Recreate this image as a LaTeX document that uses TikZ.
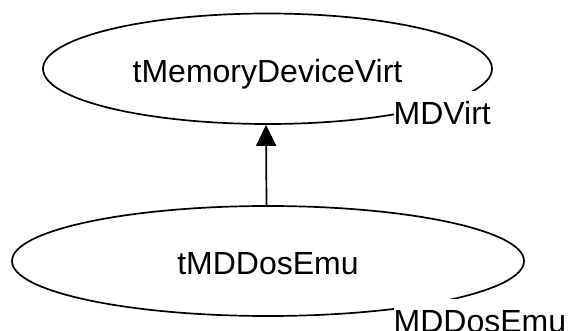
\documentclass[tikz,border=0pt]{standalone}
\usepackage{fontspec}
\setmainfont{Liberation Sans}
\usetikzlibrary{shapes.geometric,arrows.meta}
\begin{document}
\begin{tikzpicture}[x=1pt,y=-1pt,
  every node/.style={font=\fontsize{32}{38}\selectfont},
  cls/.style={ellipse, draw, line width=1.7pt, inner sep=0pt, text depth=0pt},
  lbl/.style={fill=white, inner xsep=0pt, inner ysep=11pt, anchor=base west},
  inh/.style={line width=1.7pt, -{Triangle[length=21pt,width=20pt]}}]
\useasboundingbox (0,0) rectangle (569,331);
\node[cls, minimum width=449pt, minimum height=110.5pt, text height=28.5pt] (mdv) at (267.5,68.75) {tMemoryDeviceVirt};
\node[cls, minimum width=512pt, minimum height=110pt, text height=26pt] (emu) at (268,261) {tMDDosEmu};
\draw[inh] ([xshift=-1.5pt]emu.north) -- ([xshift=-1.5pt]mdv.south);
\node[lbl] (mdvl) at (393.5,125) {MDVirt};
\node[lbl] (emul) at (393.5,332) {MDDosEmu};
\end{tikzpicture}
\end{document}
